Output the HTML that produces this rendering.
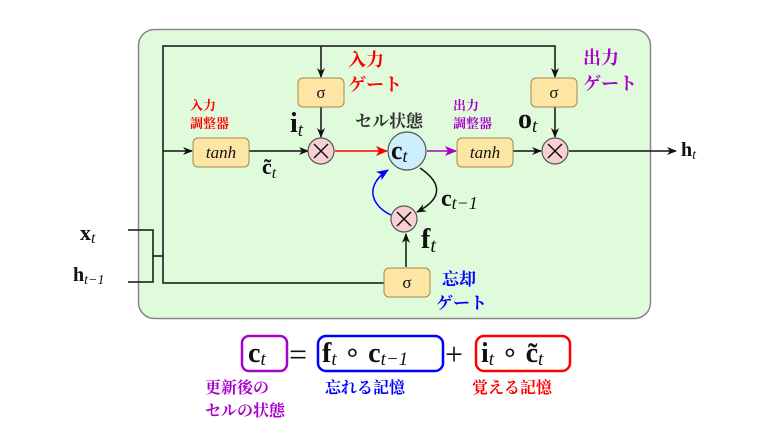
<!DOCTYPE html>
<html><head><meta charset="utf-8"><style>
html,body{margin:0;padding:0;background:#fff;}
svg{display:block;}
text{font-family:"Liberation Serif","Noto Serif CJK SC",serif;}
.jp{font-family:"Liberation Sans","Noto Sans CJK JP",sans-serif;font-weight:bold;}
</style></head><body>
<svg width="778" height="438" viewBox="0 0 778 438" xmlns="http://www.w3.org/2000/svg">
<defs>
<marker id="ak" markerWidth="10" markerHeight="8" refX="9" refY="4" orient="auto" markerUnits="userSpaceOnUse"><path d="M0,0 L10,4 L0,8 L3,4z" fill="#111"/></marker>
<marker id="ar" markerWidth="12" markerHeight="10" refX="11" refY="5" orient="auto" markerUnits="userSpaceOnUse"><path d="M0,0 L12,5 L0,10 L3,5z" fill="#f00"/></marker>
<marker id="ap" markerWidth="12" markerHeight="10" refX="11" refY="5" orient="auto" markerUnits="userSpaceOnUse"><path d="M0,0 L12,5 L0,10 L3,5z" fill="#a0c"/></marker>
<marker id="ab" markerWidth="12" markerHeight="10" refX="11" refY="5" orient="auto" markerUnits="userSpaceOnUse"><path d="M0,0 L12,5 L0,10 L3,5z" fill="#00f"/></marker>
</defs>
<rect x="138.5" y="29.5" width="512" height="289" rx="16" fill="#e0fbdc" stroke="#888" stroke-width="1.5"/>
<polyline points="128,230 153,230 153,282 128,282" fill="none" stroke="#111" stroke-width="1.5"/>
<line x1="153" y1="256" x2="163" y2="256" stroke="#111" stroke-width="1.5"/>
<polyline points="384,283 163,283 163,46 555,46 555,77" fill="none" stroke="#111" stroke-width="1.5" marker-end="url(#ak)"/>
<line x1="321" y1="46" x2="321" y2="77" stroke="#111" stroke-width="1.5" marker-end="url(#ak)"/>
<line x1="163" y1="151" x2="192" y2="151" stroke="#111" stroke-width="1.5" marker-end="url(#ak)"/>
<line x1="249" y1="151" x2="308" y2="151" stroke="#111" stroke-width="1.5" marker-end="url(#ak)"/>
<line x1="321" y1="107" x2="321" y2="137" stroke="#111" stroke-width="1.5" marker-end="url(#ak)"/>
<line x1="555" y1="107" x2="555" y2="137" stroke="#111" stroke-width="1.5" marker-end="url(#ak)"/>
<line x1="335" y1="151" x2="387" y2="151" stroke="#f00" stroke-width="1.5" marker-end="url(#ar)"/>
<line x1="427" y1="151" x2="456" y2="151" stroke="#a0c" stroke-width="1.5" marker-end="url(#ap)"/>
<line x1="513" y1="151" x2="541" y2="151" stroke="#111" stroke-width="1.5" marker-end="url(#ak)"/>
<line x1="569" y1="151" x2="676" y2="151" stroke="#111" stroke-width="1.5" marker-end="url(#ak)"/>
<line x1="406" y1="267" x2="406" y2="234" stroke="#111" stroke-width="1.5" marker-end="url(#ak)"/>
<path d="M420,168 C445,185 440,200 417,212" fill="none" stroke="#111" stroke-width="1.5" marker-end="url(#ak)"/>
<path d="M391,215 C370,205 365,185 388,170" fill="none" stroke="#00f" stroke-width="1.5" marker-end="url(#ab)"/>
<g fill="#fde6a4" stroke="#a08a50" stroke-width="1">
<rect x="298" y="78" width="46" height="29" rx="5"/>
<rect x="531" y="78" width="46" height="29" rx="5"/>
<rect x="384" y="268" width="46" height="29" rx="5"/>
<rect x="193" y="138" width="56" height="29" rx="5"/>
<rect x="457" y="138" width="56" height="29" rx="5"/>
</g>
<g font-size="17" text-anchor="middle" fill="#111">
<text x="321" y="98">σ</text><text x="554" y="98">σ</text><text x="407" y="288">σ</text>
<text x="221" y="158" font-style="italic">tanh</text><text x="485" y="158" font-style="italic">tanh</text>
</g>
<g fill="#f8d0d4" stroke="#555" stroke-width="1.2">
<circle cx="321" cy="151" r="13"/><circle cx="555" cy="151" r="13"/><circle cx="404" cy="219" r="13"/>
</g>
<g stroke="#111" stroke-width="1.5">
<path d="M314,144 L328,158 M328,144 L314,158"/>
<path d="M548,144 L562,158 M562,144 L548,158"/>
<path d="M397,212 L411,226 M411,212 L397,226"/>
</g>
<circle cx="407" cy="151" r="19" fill="#cdeefc" stroke="#555" stroke-width="1.2"/>
<text x="391" y="159" font-size="26" font-weight="bold" fill="#111">c<tspan font-size="18" font-style="italic" font-weight="normal" dy="3">t</tspan></text>
<g fill="#111">
<text x="290" y="132" font-size="28" font-weight="bold">i<tspan font-size="19" font-style="italic" font-weight="normal" dy="4">t</tspan></text>
<text x="262" y="174" font-size="22" font-weight="bold">c̃<tspan font-size="16" font-style="italic" font-weight="normal" dy="4">t</tspan></text>
<text x="518" y="128" font-size="28" font-weight="bold">o<tspan font-size="19" font-style="italic" font-weight="normal" dy="4">t</tspan></text>
<text x="681" y="156" font-size="20" font-weight="bold">h<tspan font-size="14" font-style="italic" font-weight="normal" dy="3">t</tspan></text>
<text x="441" y="206" font-size="24" font-weight="bold">c<tspan font-size="18" font-style="italic" font-weight="normal" dy="3">t−1</tspan></text>
<text x="421" y="248" font-size="28" font-weight="bold">f<tspan font-size="20" font-style="italic" font-weight="normal" dy="4">t</tspan></text>
<text x="80" y="240" font-size="22" font-weight="bold">x<tspan font-size="16" font-style="italic" font-weight="normal" dy="3">t</tspan></text>
<text x="73" y="281" font-size="20" font-weight="bold">h<tspan font-size="14" font-style="italic" font-weight="normal" dy="3">t−1</tspan></text>
</g>
<g class="jp">
<text x="348" y="66" font-size="18" fill="#f00">入力</text>
<text x="348" y="91" font-size="18" fill="#f00">ゲート</text>
<text x="583" y="64" font-size="18" fill="#a0c">出力</text>
<text x="583" y="90" font-size="18" fill="#a0c">ゲート</text>
<text x="190" y="110" font-size="13" fill="#f00">入力</text>
<text x="190" y="128" font-size="13" fill="#f00">調整器</text>
<text x="453" y="110" font-size="13" fill="#a0c">出力</text>
<text x="453" y="128" font-size="13" fill="#a0c">調整器</text>
<text x="355" y="127" font-size="17" fill="#333">セル状態</text>
<text x="442" y="285" font-size="17" fill="#00f">忘却</text>
<text x="436" y="309" font-size="17" fill="#00f">ゲート</text>
<text x="205" y="393" font-size="16" fill="#a0c">更新後の</text>
<text x="205" y="416" font-size="16" fill="#a0c">セルの状態</text>
<text x="325" y="393" font-size="16" fill="#00f">忘れる記憶</text>
<text x="472" y="393" font-size="16" fill="#f00">覚える記憶</text>
</g>
<rect x="242" y="336" width="45" height="35" rx="7" fill="none" stroke="#a0c" stroke-width="2.5"/>
<rect x="318" y="336" width="125" height="35" rx="8" fill="none" stroke="#00f" stroke-width="2.5"/>
<rect x="476" y="336" width="94" height="35" rx="8" fill="none" stroke="#f00" stroke-width="2.5"/>
<g fill="#111">
<text x="248" y="362" font-size="28" font-weight="bold">c<tspan font-size="19" font-style="italic" font-weight="normal" dy="3">t</tspan></text>
<text x="289" y="365" font-size="32">=</text>
<text x="322" y="362" font-size="28" font-weight="bold">f<tspan font-size="19" font-style="italic" font-weight="normal" dy="3">t</tspan><tspan font-weight="normal" dy="-3"> ∘ </tspan>c<tspan font-size="19" font-style="italic" font-weight="normal" dy="3">t−1</tspan></text>
<text x="445" y="365" font-size="32">+</text>
<text x="481" y="362" font-size="28" font-weight="bold">i<tspan font-size="19" font-style="italic" font-weight="normal" dy="3">t</tspan><tspan font-weight="normal" dy="-3"> ∘ </tspan>c̃<tspan font-size="19" font-style="italic" font-weight="normal" dy="3">t</tspan></text>
</g>
</svg>
</body></html>
